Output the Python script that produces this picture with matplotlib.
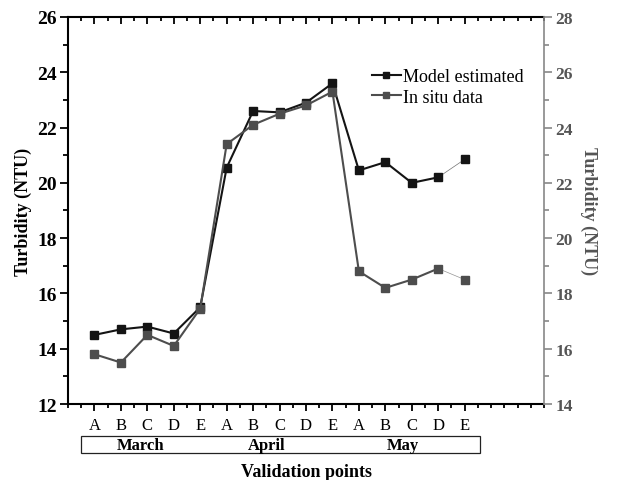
import numpy as np
import matplotlib
matplotlib.use('Agg')
import matplotlib.pyplot as plt
from matplotlib.patches import Rectangle
from matplotlib.ticker import MultipleLocator

plt.rcParams['font.family'] = ['Liberation Serif', 'DejaVu Serif']

points = ['A', 'B', 'C', 'D', 'E'] * 3
months = ['March', 'April', 'May']
month_pos = [2.76, 7.5, 12.67]

model = [14.5, 14.7, 14.8, 14.55, 15.5,
         20.55, 22.6, 22.55, 22.9, 23.6,
         20.45, 20.75, 20.0, 20.2, 20.85]
insitu = [13.8, 13.5, 14.5, 14.1, 15.45,
          21.4, 22.1, 22.5, 22.8, 23.3,
          16.8, 16.2, 16.5, 16.9, 16.5]

x = np.arange(1, len(points) + 1)
c_model = '#141414'
c_insitu = '#4d4d4d'
gray = '#888888'

fig = plt.figure(figsize=(6.2, 4.81), dpi=100)
ax = fig.add_axes([0.1097, 0.158, 0.7677, 0.8046])

# main lines (last segment drawn thin, as in original)
ax.plot(x[:-1], model[:-1], color=c_model, lw=1.5, marker='s', ms=6,
        label='Model estimated')
ax.plot(x[-2:], model[-2:], color=c_model, lw=0.5, alpha=0.6)
ax.plot(x[-1:], model[-1:], color=c_model, marker='s', ms=6, ls='none')
ax.plot(x[:-1], insitu[:-1], color=c_insitu, lw=1.5, marker='s', ms=6,
        label='In situ data')
ax.plot(x[-2:], insitu[-2:], color=c_insitu, lw=0.5, alpha=0.6)
ax.plot(x[-1:], insitu[-1:], color=c_insitu, marker='s', ms=6, ls='none')

ax.set_xlim(0, 18)
ax.set_ylim(12, 26)
ax.set_yticks(np.arange(12, 27, 2))
ax.yaxis.set_minor_locator(MultipleLocator(1))
ax.set_xticks(x)
ax.set_xticklabels(points, fontsize=12)
ax.xaxis.set_minor_locator(MultipleLocator(0.5))
for label in ax.get_yticklabels():
    label.set_fontweight('bold')
    label.set_fontsize(14)

for s in ['left', 'bottom', 'top']:
    ax.spines[s].set_linewidth(1.5)
ax.spines['right'].set_visible(False)
ax.tick_params(axis='y', which='major', direction='out', length=6, width=1.3, pad=2)
ax.tick_params(axis='y', which='minor', direction='out', length=3.5, width=1.3)
ax.tick_params(axis='x', which='major', direction='out', length=5, width=1.3,
               pad=4, top=True)
ax.tick_params(axis='x', which='minor', direction='out', length=3, width=1.3,
               top=True)
# top ticks pointing inward
for t in ax.xaxis.get_major_ticks() + ax.xaxis.get_minor_ticks():
    t.tick2line.set_marker(3)

ax.set_ylabel('Turbidity (NTU)', fontsize=13, fontweight='bold', labelpad=4)

ax2 = ax.twinx()
ax2.set_ylim(14, 28)
ax2.set_yticks(np.arange(14, 29, 2))
ax2.yaxis.set_minor_locator(MultipleLocator(1))
for s in ['left', 'bottom', 'top']:
    ax2.spines[s].set_visible(False)
ax2.spines['right'].set_color(gray)
ax2.spines['right'].set_linewidth(1.2)
ax2.tick_params(axis='y', which='major', direction='out', length=6, width=1.2,
                color=gray, labelcolor='#555555', pad=2)
ax2.tick_params(axis='y', which='minor', direction='out', length=3.5, width=1.2,
                color=gray)
for label in ax2.get_yticklabels():
    label.set_fontweight('bold')
    label.set_fontsize(12.5)
ax2.set_ylabel('Turbidity (NTU)', fontsize=13, fontweight='bold', color='#555555',
               rotation=270, labelpad=18)

# month box
trans = ax.get_xaxis_transform()
box = Rectangle((0.48, -0.127), 15.1, 0.045, transform=trans, fill=False,
                lw=0.9, edgecolor='#222222', clip_on=False)
ax.add_patch(box)
for m, p in zip(months, month_pos):
    ax.text(p, -0.105, m, transform=trans, ha='center', va='center',
            fontsize=12, fontweight='bold')

ax.text(9, -0.175, 'Validation points', transform=trans, ha='center', va='center',
        fontsize=13, fontweight='bold')

leg = ax.legend(loc='upper left', bbox_to_anchor=(0.638, 0.868), frameon=False,
                fontsize=13, handlelength=1.6, handletextpad=0.15,
                borderaxespad=0, borderpad=0, labelspacing=0.2, markerscale=0.7)

fig.savefig('out.png', dpi=100)
